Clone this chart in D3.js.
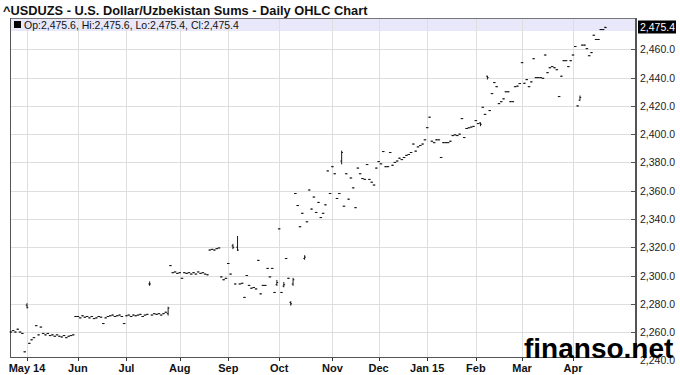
<!DOCTYPE html>
<html>
<head>
<meta charset="utf-8">
<script src="https://cdn.jsdelivr.net/npm/d3@7"></script>
<style>
  body { margin: 0; background: #fff; }
  svg { font-family: "Liberation Sans", Arial, sans-serif; }
</style>
</head>
<body>
<svg id="chart" width="680" height="375"></svg>
<script>
var title = '^USDUZS - U.S. Dollar/Uzbekistan Sums - Daily OHLC Chart';
var legendText = 'Op:2,475.6, Hi:2,475.6, Lo:2,475.4, Cl:2,475.4';
var lastLabel = '2,475.4';

// trading calendar
var firstDay = '2014-04-22';
var holidays = ['2014-12-25', '2014-12-26', '2015-01-01'];

// daily closes, one per trading day
var closes = [
  2260, 2261, 2260, 2262, 2260, 2259, 2246, 2277.5, 2252, 2254.5,
  2256, 2264.5, 2258, 2263.5, 2259, 2258, 2259, 2257.5, 2258, 2257,
  2258, 2257, 2256.5, 2257.5, 2256, 2257, 2257.5, 2258, 2271, 2271,
  2270, 2271.5, 2270.5, 2271, 2270, 2271, 2269.5, 2270, 2271, 2270.5,
  2266, 2270, 2271, 2271.5, 2272, 2271, 2271.5, 2272, 2271, 2266,
  2271.5, 2272, 2271, 2272, 2271.5, 2272, 2272.5, 2271, 2272, 2272.5,
  2294, 2272, 2273, 2272.5, 2273, 2272, 2273, 2274, 2277, 2307,
  2302, 2302.5, 2301.5, 2302, 2298, 2302, 2301.5, 2302, 2301, 2302,
  2301, 2302.5, 2301.5, 2302, 2301, 2300.5, 2318, 2318.5, 2318, 2319,
  2319.5, 2299, 2297, 2298, 2308.5, 2301, 2320, 2294, 2318, 2294,
  2294.5, 2284.5, 2300, 2293, 2291, 2291.5, 2290.5, 2310.7, 2287, 2293,
  2293, 2305, 2299, 2305, 2288, 2295, 2333, 2288, 2293.5, 2312,
  2298, 2280, 2297, 2358, 2349.5, 2334.5, 2344, 2313, 2338, 2360.5,
  2347, 2355.5, 2344.6, 2351.7, 2341, 2344, 2350, 2374, 2358, 2377,
  2372, 2354.5, 2358, 2387, 2349, 2372, 2354, 2369, 2362, 2348,
  2376, 2372, 2368.6, 2368, 2378.5, 2368, 2366, 2364, 2376, 2380.6,
  2379, 2387.7, 2377, 2377, 2387, 2378, 2380, 2381, 2383, 2382,
  2383.5, 2385, 2385.6, 2387, 2393, 2388, 2391, 2392, 2393, 2396,
  2404.6, 2412, 2395, 2394, 2396, 2396, 2383.5, 2394, 2394, 2394,
  2395, 2399, 2399.5, 2399, 2400, 2411, 2397.6, 2404, 2404.5, 2405,
  2405.5, 2409.6, 2407.5, 2407, 2419, 2414, 2440, 2416.7, 2428.7, 2436.5,
  2433.6, 2421.6, 2423, 2425, 2430, 2430, 2423, 2423, 2433.6, 2434,
  2435.8, 2450.6, 2436, 2438.6, 2433.6, 2437, 2453.4, 2440, 2440, 2440,
  2439.5, 2456, 2443.5, 2447, 2447.8, 2447, 2445.6, 2426.6, 2441, 2452,
  2452, 2447.8, 2452, 2456, 2462, 2420, 2426, 2463, 2463, 2460.5,
  2455.5, 2457.7, 2470, 2467, 2467, 2474, 2474, 2475.4
];

// bars with a visible range: [day index, open, high, low]
var wideBars = [
  [7, 2279, 2280, 2277],
  [60, 2294, 2295.5, 2293],
  [68, 2273, 2277.5, 2272],
  [96, 2321, 2322, 2319],
  [98, 2320, 2327.6, 2317.7],
  [115, 2293.5, 2296.5, 2293],
  [118, 2292.5, 2295, 2292],
  [121, 2281, 2281.5, 2279],
  [122, 2294, 2298, 2293],
  [127, 2312, 2314, 2311.5],
  [143, 2381, 2388, 2379],
  [203, 2408, 2408, 2406],
  [206, 2441, 2441, 2439],
  [246, 2424, 2427, 2424],
  [257, 2475.6, 2475.6, 2475.4]
];

var yTicks = [2240, 2260, 2280, 2300, 2320, 2340, 2360, 2380, 2400, 2420, 2440, 2460];
var monthDates = ['2014-05-01', '2014-06-02', '2014-07-01', '2014-08-01', '2014-09-01', '2014-10-01',
                  '2014-11-03', '2014-12-01', '2015-01-02', '2015-02-02', '2015-03-02', '2015-04-01'];
var monthLabels = ['May 14', 'Jun', 'Jul', 'Aug', 'Sep', 'Oct', 'Nov', 'Dec', 'Jan 15', 'Feb', 'Mar', 'Apr'];

// build trading dates
var fmt = d3.utcFormat('%Y-%m-%d');
var dates = [];
var day = new Date(firstDay + 'T00:00:00Z');
while (dates.length < closes.length) {
    var wd = day.getUTCDay();
    if (wd !== 0 && wd !== 6 && holidays.indexOf(fmt(day)) < 0) dates.push(fmt(day));
    day = d3.utcDay.offset(day, 1);
}

var bars = closes.map(function(c, i) {
    return { date: dates[i], i: i, o: c, h: c, l: c, c: c };
});
wideBars.forEach(function(w) {
    var b = bars[w[0]];
    b.o = w[1]; b.h = w[2]; b.l = w[3];
});

var left = 10, right = 636, top = 18, bottom = 357.5;

var svg = d3.select('#chart');

var x = d3.scaleLinear()
            .domain([-0.35, 269.8])
            .range([left, 635]);
var y = d3.scaleLinear()
            .domain([2240, 2480])
            .range([360.3, 21.1]);

svg.append('text')
    .attr('x', 3)
    .attr('y', 14.5)
    .style('font-weight', 'bold')
    .style('font-size', '12.8px')
    .attr('fill', '#111')
    .text(title);

// legend band
svg.append('rect')
    .attr('x', left).attr('y', 19)
    .attr('width', right - left).attr('height', 12)
    .attr('fill', '#e8e8fa');

var grid = svg.append('g').attr('shape-rendering', 'crispEdges');

grid.selectAll('.hgrid')
    .data(yTicks.filter(function(t) { return y(t) < bottom; }))
    .enter()
    .append('line')
        .attr('x1', left).attr('x2', right)
        .attr('y1', d => Math.round(y(d)) + 0.5)
        .attr('y2', d => Math.round(y(d)) + 0.5)
        .attr('stroke', '#dedede');

var monthIdx = monthDates.map(d => dates.indexOf(d));

grid.selectAll('.vgrid')
    .data(monthIdx)
    .enter()
    .append('line')
        .attr('x1', d => Math.round(x(d)) + 0.5)
        .attr('x2', d => Math.round(x(d)) + 0.5)
        .attr('y1', 19).attr('y2', bottom)
        .attr('stroke', '#dedede');

// frame
grid.append('line').attr('x1', left).attr('x2', right).attr('y1', 18.5).attr('y2', 18.5).attr('stroke', '#777');
grid.append('line').attr('x1', left + 0.5).attr('x2', left + 0.5).attr('y1', 18).attr('y2', bottom).attr('stroke', '#555');
grid.append('line').attr('x1', left).attr('x2', right).attr('y1', bottom).attr('y2', bottom).attr('stroke', '#555');
grid.append('line').attr('x1', right).attr('x2', right).attr('y1', 18).attr('y2', bottom + 0.5)
    .attr('stroke', '#555').attr('stroke-width', 2);

// legend content
svg.append('rect').attr('x', 14).attr('y', 21).attr('width', 7).attr('height', 7).attr('fill', '#000');
svg.append('text')
    .attr('x', 24).attr('y', 28.5)
    .style('font-size', '10.5px')
    .attr('fill', '#111')
    .text(legendText);

// right axis
grid.selectAll('.ytick')
    .data(yTicks.filter(function(t) { return y(t) < bottom; }))
    .enter()
    .append('line')
        .attr('x1', right - 5).attr('x2', right)
        .attr('y1', d => Math.round(y(d)) + 0.5)
        .attr('y2', d => Math.round(y(d)) + 0.5)
        .attr('stroke', '#555');

svg.selectAll('.ylabel')
    .data(yTicks)
    .enter()
    .append('text')
        .attr('x', 640)
        .attr('y', d => y(d) + 4)
        .style('font-size', '10.5px')
        .attr('fill', '#222')
        .text(d => d3.format(',.1f')(d));

// x axis
grid.selectAll('.xtick')
    .data(monthIdx)
    .enter()
    .append('line')
        .attr('x1', d => Math.round(x(d)) + 0.5)
        .attr('x2', d => Math.round(x(d)) + 0.5)
        .attr('y1', bottom).attr('y2', bottom + 3)
        .attr('stroke', '#333');

svg.selectAll('.xlabel')
    .data(monthIdx)
    .enter()
    .append('text')
        .attr('x', d => x(d))
        .attr('y', 372)
        .style('font-size', '11px')
        .style('font-weight', 'bold')
        .style('text-anchor', 'middle')
        .attr('fill', '#111')
        .text((d, i) => monthLabels[i]);

// OHLC bars, thin and anti-aliased like the original
var ohlc = svg.append('g')
                .attr('stroke', '#000')
                .attr('stroke-width', 0.9);

var barG = ohlc.selectAll('.bar')
                .data(bars)
                .enter()
                .append('g')
                    .classed('bar', true);

barG.append('line')
    .attr('x1', d => x(d.i))
    .attr('x2', d => x(d.i))
    .attr('y1', d => y(d.h) - 0.5)
    .attr('y2', d => y(d.l) + 0.5);
barG.append('line')
    .attr('x1', d => x(d.i) - 1.3)
    .attr('x2', d => x(d.i))
    .attr('y1', d => y(d.o))
    .attr('y2', d => y(d.o));
barG.append('line')
    .attr('x1', d => x(d.i))
    .attr('x2', d => x(d.i) + 1.3)
    .attr('y1', d => y(d.c))
    .attr('y2', d => y(d.c));

// last value marker
svg.append('rect')
    .attr('x', 638).attr('y', 20.5)
    .attr('width', 38).attr('height', 13)
    .attr('fill', '#000');
svg.append('text')
    .attr('x', 640).attr('y', 31)
    .style('font-size', '10.5px')
    .attr('fill', '#fff')
    .text(lastLabel);

// watermark
svg.append('text')
    .attr('x', 524).attr('y', 358)
    .style('font-size', '28px')
    .style('font-weight', 'bold')
    .attr('fill', '#000')
    .text('finanso.net');
</script>
</body>
</html>
